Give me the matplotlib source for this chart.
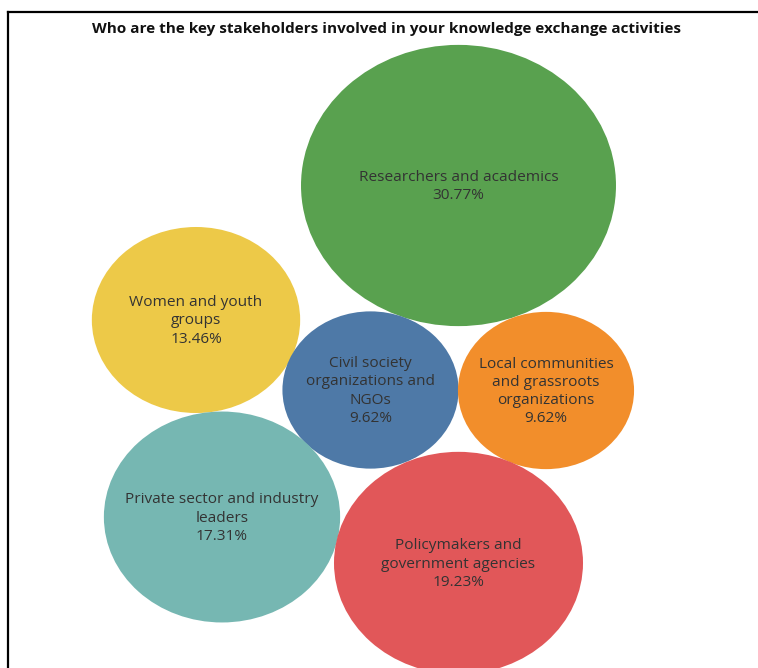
import numpy as np
import matplotlib.pyplot as plt
from matplotlib.patches import Ellipse
from matplotlib.lines import Line2D

# share of respondents naming each stakeholder group (%)
groups = [
    "Researchers and academics",
    "Women and youth\ngroups",
    "Civil society\norganizations and\nNGOs",
    "Local communities\nand grassroots\norganizations",
    "Private sector and industry\nleaders",
    "Policymakers and\ngovernment agencies",
]
shares = [30.77, 13.46, 9.62, 9.62, 17.31, 19.23]
colors = ["#59A14F", "#EDC948", "#4E79A7", "#F28E2B", "#76B7B2", "#E15759"]

# packed-bubble layout (pixel space, y down)
centers = [(458.5, 185.5), (196, 320), (370.5, 390), (546, 390.5),
           (222, 517), (458.5, 563)]
scale = 25.35      # radius per sqrt(%)
stretch = 1.12     # bubbles are drawn slightly wider than tall

W, H = 758, 668
fig = plt.figure(figsize=(W / 100, H / 100), dpi=100)
ax = fig.add_axes([0, 0, 1, 1])
ax.set_xlim(0, W)
ax.set_ylim(H, 0)
ax.axis("off")

for name, val, col, (cx, cy) in zip(groups, shares, colors, centers):
    r = scale * np.sqrt(val)
    ax.add_patch(Ellipse((cx, cy), 2 * r * stretch, 2 * r, facecolor=col,
                         edgecolor="none"))
    ax.text(cx, cy + 1, f"{name}\n{val:.2f}%", ha="center", va="center",
            fontsize=11.1, family="Open Sans", color="#333333",
            linespacing=1.3)

ax.text(386, 29.5, "Who are the key stakeholders involved in your knowledge "
        "exchange activities", ha="center", va="center", fontsize=11,
        fontweight="bold", family="Open Sans", color="#111111")

# worksheet border
ax.add_line(Line2D([8, 8], [H, 12], color="black", lw=1.6))
ax.add_line(Line2D([8, W], [12, 12], color="black", lw=1.6))

fig.savefig("out.png", dpi=100)
